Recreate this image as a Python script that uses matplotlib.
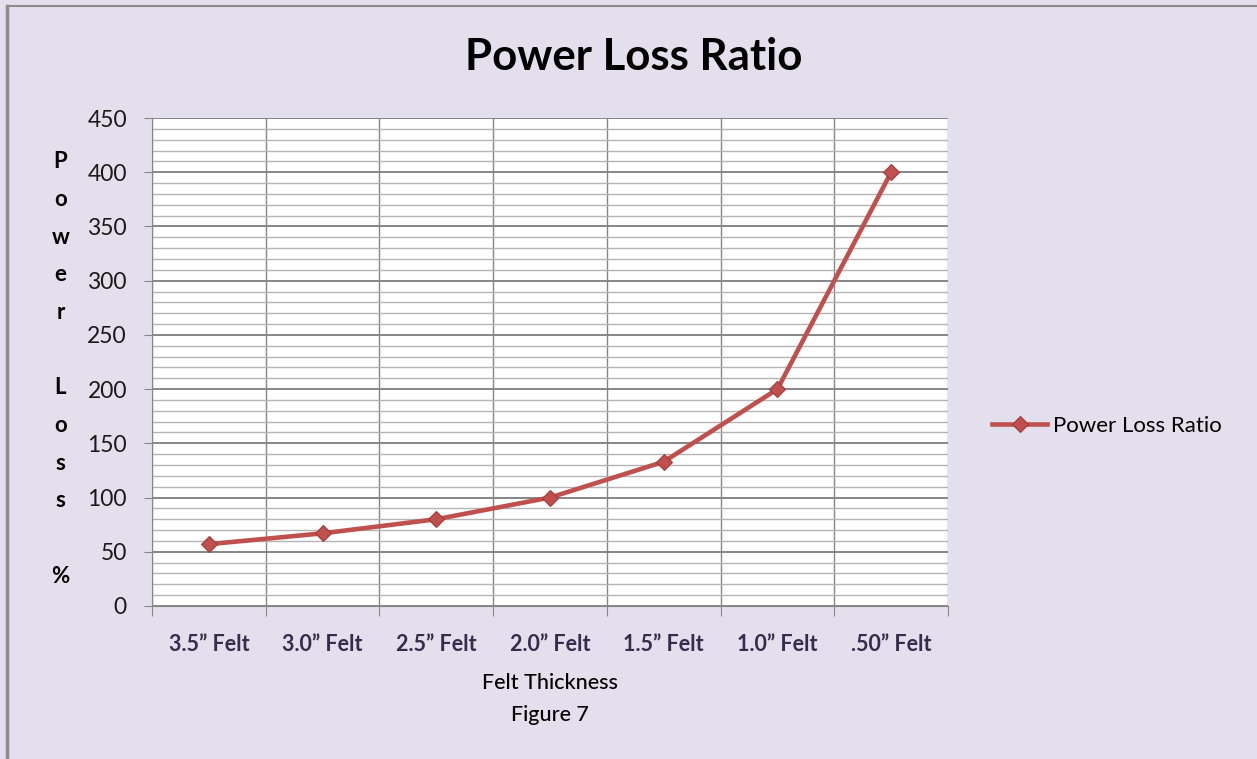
import matplotlib.pyplot as plt
import numpy as np
from matplotlib.ticker import MultipleLocator, FixedLocator

plt.rcParams['font.family'] = ['Lato', 'DejaVu Sans']

categories = ['3.5\u201d Felt', '3.0\u201d Felt', '2.5\u201d Felt', '2.0\u201d Felt',
              '1.5\u201d Felt', '1.0\u201d Felt', '.50\u201d Felt']
power_loss = [57, 67, 80, 100, 133, 200, 400]

bg = "#e4dfec"
red = "#c0504d"

fig = plt.figure(figsize=(12.57, 7.59), dpi=100, facecolor=bg)
ax = fig.add_axes([0.1209, 0.2016, 0.6333, 0.6429])
ax.set_facecolor("white")

x = np.arange(len(categories)) + 0.5
ax.plot(x, power_loss, color=red, linewidth=3.3, marker="D", markersize=8.5,
        markerfacecolor=red, markeredgecolor="#a03c3a", markeredgewidth=0.8,
        label="Power Loss Ratio", zorder=5)

ax.set_xlim(0, len(categories))
ax.set_ylim(0, 450)

# y grid: majors every 50, minors every 10
ax.yaxis.set_major_locator(MultipleLocator(50))
ax.yaxis.set_minor_locator(MultipleLocator(10))
ax.grid(axis="y", which="major", color="#868686", linewidth=1.4)
ax.grid(axis="y", which="minor", color="#b4b4b4", linewidth=1.0)
ax.tick_params(axis="y", which="minor", length=0)
ax.tick_params(axis="y", which="major", direction="out", length=6,
               color="#868686", labelsize=16.5, labelcolor="#1a1a1a", pad=12)

# x: category boundaries carry ticks and vertical grid lines
ax.xaxis.set_major_locator(FixedLocator(np.arange(len(categories) + 1)))
ax.xaxis.set_minor_locator(FixedLocator(x))
ax.set_xticklabels([])
ax.set_xticklabels(categories, minor=True)
ax.grid(axis="x", which="major", color="#868686", linewidth=1.0)
ax.tick_params(axis="x", which="major", direction="out", length=7,
               color="#868686")
ax.tick_params(axis="x", which="minor", length=0, labelsize=15.5,
               labelcolor="#362c4c", pad=20)
for lab in ax.get_xticklabels(minor=True):
    lab.set_fontweight("bold")

for side in ["top", "right"]:
    ax.spines[side].set_visible(False)
ax.spines["left"].set_color("#868686")
ax.spines["bottom"].set_color("#868686")
ax.set_axisbelow(True)

fig.text(0.5045, 0.925, "Power Loss Ratio", ha="center", va="center",
         fontsize=31.5, fontweight="bold", color="black")

ax.set_xlabel("Felt Thickness\nFigure 7", fontsize=15.5, labelpad=13,
              linespacing=1.75, fontweight="medium")

fig.text(0.048, 0.514, "P\no\nw\ne\nr\n\nL\no\ns\ns\n\n%", ha="center",
         va="center", fontsize=16, fontweight="bold", linespacing=1.98)

ax.legend(loc="center left", bbox_to_anchor=(1.03, 0.369), frameon=False,
          fontsize=16, handlelength=2.5, handletextpad=0.25)

# border on left and top edges
fig.add_artist(plt.Line2D([0.0057, 0.0057], [0, 0.992], color="#8c8c8c",
                          linewidth=2.5, transform=fig.transFigure))
fig.add_artist(plt.Line2D([0.0057, 1], [0.992, 0.992], color="#8c8c8c",
                          linewidth=1.5, transform=fig.transFigure))

fig.savefig("out.png", dpi=100, facecolor=bg)
